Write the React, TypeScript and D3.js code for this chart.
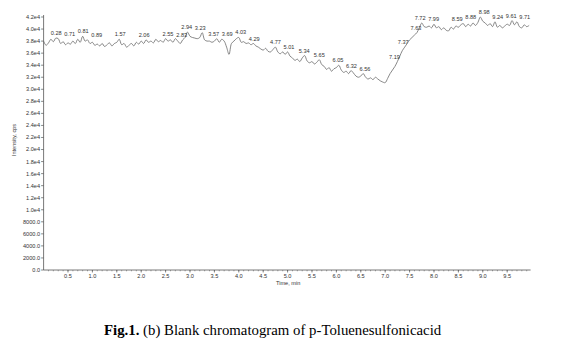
import React from "react";
import * as d3 from "d3";

// intensity in units of 1e4 cps, sampled every 0.05 min from 0.00 to 9.95
const intensity: number[] = [
  3.80, 3.73, 3.77, 3.83, 3.79, 3.85, 3.84, 3.76, 3.79, 3.74,
  3.77, 3.75, 3.80, 3.76, 3.83, 3.78, 3.88, 3.80, 3.82, 3.76,
  3.78, 3.73, 3.75, 3.72, 3.76, 3.71, 3.74, 3.77, 3.72, 3.76,
  3.78, 3.83, 3.74, 3.76, 3.70, 3.73, 3.76, 3.72, 3.78, 3.75,
  3.80, 3.76, 3.82, 3.78, 3.80, 3.77, 3.83, 3.79, 3.81, 3.78,
  3.84, 3.80, 3.82, 3.78, 3.84, 3.80, 3.76, 3.82, 3.86, 3.95,
  3.88, 3.86, 3.85, 3.84, 3.86, 3.94, 3.82, 3.80, 3.80, 3.78,
  3.80, 3.84, 3.78, 3.83, 3.80, 3.70, 3.58, 3.76, 3.80, 3.84,
  3.86, 3.78, 3.79, 3.76, 3.77, 3.74, 3.76, 3.72, 3.70, 3.67,
  3.65, 3.68, 3.63, 3.62, 3.66, 3.70, 3.62, 3.59, 3.62, 3.58,
  3.62, 3.55, 3.52, 3.48, 3.50, 3.46, 3.52, 3.56, 3.47, 3.44,
  3.46, 3.42, 3.45, 3.49, 3.41, 3.38, 3.33, 3.36, 3.30, 3.34,
  3.36, 3.40, 3.32, 3.28, 3.30, 3.26, 3.31, 3.27, 3.22, 3.20,
  3.22, 3.26, 3.20, 3.17, 3.19, 3.16, 3.20, 3.17, 3.14, 3.12,
  3.11, 3.18, 3.26, 3.32, 3.38, 3.46, 3.55, 3.64, 3.70, 3.76,
  3.82, 3.86, 3.90, 3.94, 4.02, 4.10, 4.04, 4.03, 4.05, 4.02,
  4.08, 4.02, 4.04, 3.99, 4.02, 3.98, 3.97, 4.03, 4.00, 4.05,
  4.03, 4.07, 4.09, 4.04, 4.08, 4.05, 4.10, 4.06, 4.11, 4.20,
  4.13, 4.10, 4.06, 4.09, 4.04, 4.12, 4.03, 4.06, 4.02, 4.05,
  4.08, 4.06, 4.14, 4.07, 4.12, 4.04, 4.02, 4.07, 4.04, 4.06,
];
const sampleStep = 0.05;

const peakTimes: number[] = [
  0.28, 0.71, 0.81, 0.89, 1.57, 2.06, 2.55, 2.83, 2.94, 3.23, 3.57, 3.69,
  4.03, 4.29, 4.77, 5.01, 5.34, 5.65, 6.05, 6.32, 6.56, 7.19, 7.37, 7.63,
  7.72, 7.99, 8.59, 8.88, 8.98, 9.24, 9.61, 9.71,
];

const xTicks: number[] = [0.5, 1.0, 1.5, 2.0, 2.5, 3.0, 3.5, 4.0, 4.5, 5.0, 5.5, 6.0, 6.5, 7.0, 7.5, 8.0, 8.5, 9.0, 9.5];
const yTicks: number[] = [0, 2000, 4000, 6000, 8000, 10000, 12000, 14000, 16000, 18000, 20000, 22000, 24000, 26000, 28000, 30000, 32000, 34000, 36000, 38000, 40000, 42000];

const W = 575;
const H = 351;

function yFmt(v: number): string {
  if (v < 10000) return v.toFixed(1);
  return (v / 10000).toFixed(1) + "e4";
}

export default function App() {
  const x = d3.scaleLinear().domain([0, 9.98]).range([43.6, 530.6]);
  const y = d3.scaleLinear().domain([0, 42000]).range([270, 17]);

  const pts = intensity.map((v, i) => [i * sampleStep, v * 10000] as [number, number]);
  const line = d3
    .line<[number, number]>()
    .x((d) => x(d[0]))
    .y((d) => y(d[1]))
    .curve(d3.curveCatmullRom);
  const path = line(pts) || "";

  const peakVal = (t: number) => {
    const near = pts.filter((p) => Math.abs(p[0] - t) <= 0.06);
    return d3.max(near, (p) => p[1]) ?? 0;
  };

  // label layout: start at peak, then push apart overlapping neighbours
  const labels = peakTimes.map((t) => ({ t, lx: x(t), ly: y(peakVal(t)) - 3 }));
  const minGap = 13.5;
  for (let iter = 0; iter < 200; iter++) {
    for (let i = 1; i < labels.length; i++) {
      const a = labels[i - 1];
      const b = labels[i];
      if (Math.abs(a.ly - b.ly) < 6.5) {
        const d = b.lx - a.lx;
        if (d < minGap) {
          const push = (minGap - d) / 2;
          a.lx -= push;
          b.lx += push;
        }
      }
    }
  }

  const minorTicks = d3.range(0.1, 9.95, 0.1);
  const axisColor = "#555";
  const textColor = "#333";
  const font = "Liberation Sans, Arial, sans-serif";

  return (
    <svg
      width={W}
      height={H}
      style={{ position: "absolute", left: 0, top: 0, background: "#fff" }}
    >
      <line x1={x(0)} x2={x(0)} y1={15} y2={270} stroke={axisColor} strokeWidth={0.8} />
      <line x1={x(0)} x2={x(9.98)} y1={270} y2={270} stroke={axisColor} strokeWidth={0.8} />
      {yTicks.map((t) => (
        <g key={"y" + t}>
          <line x1={x(0) - 2.5} x2={x(0)} y1={y(t)} y2={y(t)} stroke={axisColor} strokeWidth={0.7} />
          <text
            x={x(0) - 3.5}
            y={y(t)}
            dy="0.35em"
            textAnchor="end"
            fontSize={5.6}
            fontFamily={font}
            fill={textColor}
          >
            {yFmt(t)}
          </text>
        </g>
      ))}
      {minorTicks.map((t, i) => (
        <line key={"m" + i} x1={x(t)} x2={x(t)} y1={270} y2={271.3} stroke={axisColor} strokeWidth={0.5} />
      ))}
      {xTicks.map((t) => (
        <g key={"x" + t}>
          <line x1={x(t)} x2={x(t)} y1={270} y2={272.5} stroke={axisColor} strokeWidth={0.7} />
          <text
            x={x(t)}
            y={278}
            textAnchor="middle"
            fontSize={5.6}
            fontFamily={font}
            fill={textColor}
          >
            {t.toFixed(1)}
          </text>
        </g>
      ))}
      <text x={276} y={285} fontSize={5.6} fontFamily={font} fill={textColor}>
        Time, min
      </text>
      <text
        transform={`translate(16,140) rotate(-90)`}
        textAnchor="middle"
        fontSize={5.6}
        fontFamily={font}
        fill={textColor}
      >
        Intensity, cps
      </text>
      <path d={path} fill="none" stroke="#6a6a6a" strokeWidth={0.8} />
      {labels.map((l) => (
        <text
          key={"p" + l.t}
          x={l.lx}
          y={l.ly}
          textAnchor="middle"
          fontSize={5.6}
          fontFamily={font}
          fill={textColor}
        >
          {l.t.toFixed(2)}
        </text>
      ))}
      <text x={104} y={335} fontSize={14.8} fontFamily="Liberation Serif, Times New Roman, serif" fill="#000">
        <tspan fontWeight="bold">Fig.1.</tspan>
        <tspan> (b) Blank chromatogram of p-Toluenesulfonicacid</tspan>
      </text>
    </svg>
  );
}
